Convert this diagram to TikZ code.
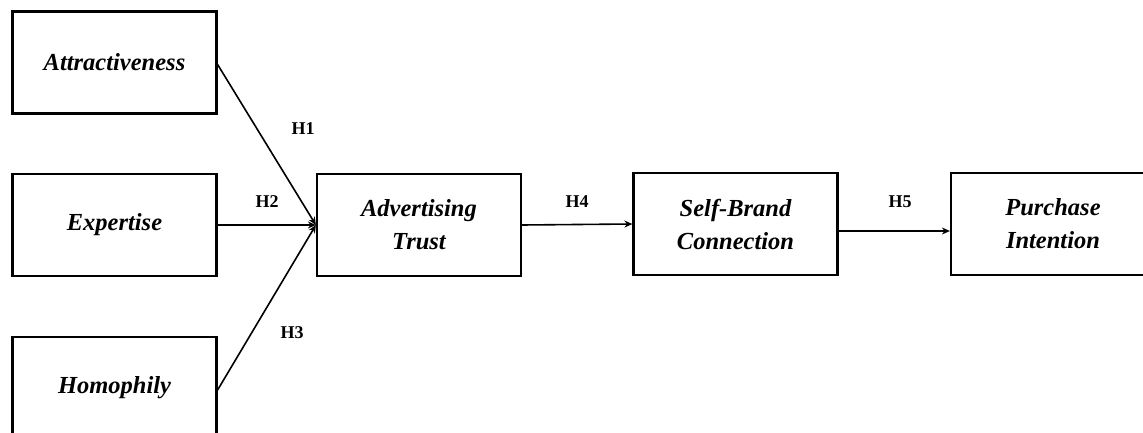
\documentclass[tikz,border=0pt]{standalone}
\usepackage{fontspec}
\setmainfont{Liberation Serif}
\usetikzlibrary{arrows.meta}
\tikzset{
  box/.style={draw, line width=2.2pt, minimum width=204pt, minimum height=102pt, inner sep=0pt, align=center,
    font=\fontsize{24.5}{33}\selectfont\bfseries\itshape},
  arr/.style={line width=1.6pt, -{Stealth[length=8pt,width=7pt]}},
  hlab/.style={font=\fontsize{18}{20}\selectfont\bfseries}
}
\begin{document}
\begin{tikzpicture}[x=1pt,y=-1pt]
\useasboundingbox (0,0) rectangle (1143,433);
\clip (0,0) rectangle (1143,433);
\fill[white] (0,0) rectangle (1143,433);
\node[box] (att) at (114.5,62.5) {Attractiveness};
\node[box] (exp) at (114.5,225) {Expertise};
\node[box] (hom) at (114.5,388) {Homophily};
\node[box] (adv) at (419,225) {Advertising\\Trust};
\node[box] (sbc) at (735.5,224) {Self-Brand\\Connection};
\node[box] (pi) at (1053,224) {Purchase\\Intention};
\draw[arr] ([yshift=-2pt]att.east) -- (adv.west);
\draw[arr] (exp.east) -- (adv.west);
\draw[arr] ([yshift=-2pt]hom.east) -- (adv.west);
\draw[arr] (adv.east) -- (sbc.west);
\draw[arr] ([yshift=-7pt]sbc.east) -- ([yshift=-7pt]pi.west);
\node[hlab] (h1) at (303,129) {H1};
\node[hlab] (h2) at (267,202) {H2};
\node[hlab] (h3) at (292,333) {H3};
\node[hlab] (h4) at (577,202) {H4};
\node[hlab] (h5) at (900,202) {H5};
\end{tikzpicture}
\end{document}
